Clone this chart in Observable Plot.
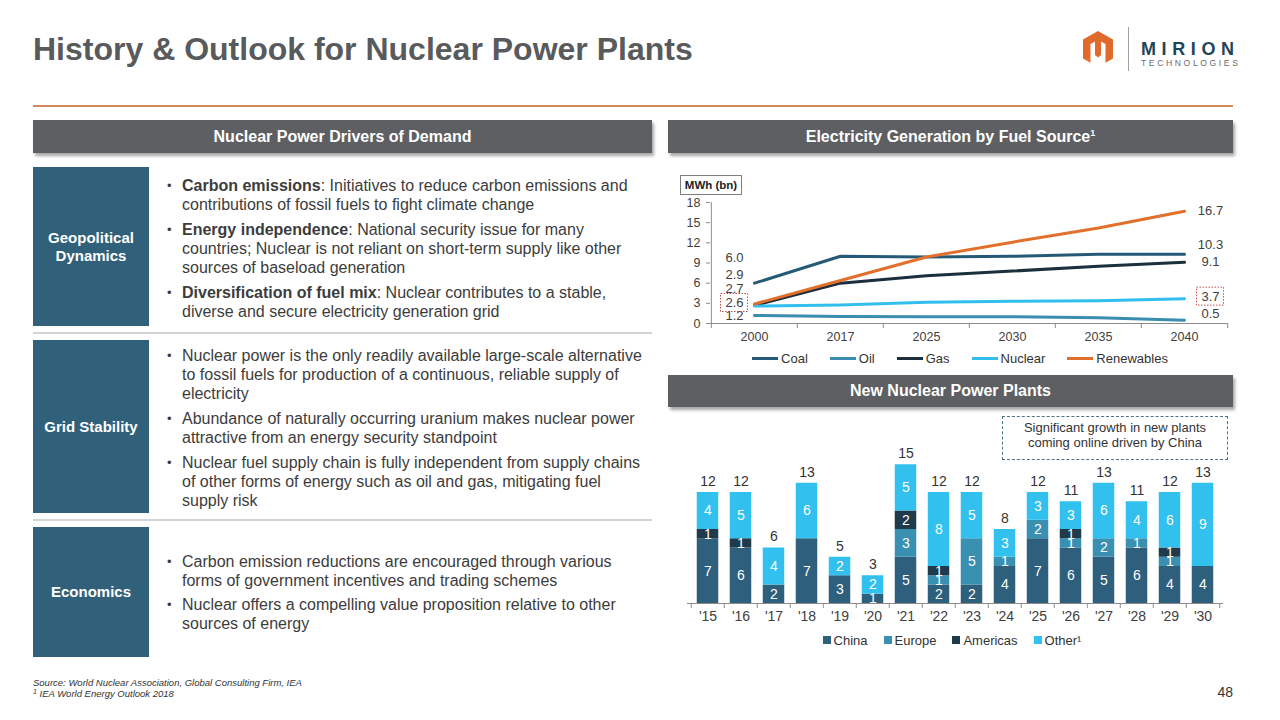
<!DOCTYPE html>
<html><head><meta charset="utf-8">
<script src="https://cdn.jsdelivr.net/npm/d3@7"></script>
<script src="https://cdn.jsdelivr.net/npm/@observablehq/plot@0.6"></script>
<style>
body{margin:0;background:#fff;font-family:"Liberation Sans",Arial,Helvetica,sans-serif;}
#slide{position:relative;width:1280px;height:720px;overflow:hidden;background:#fff;}
.abs{position:absolute;}
.title{left:33px;top:33px;font-size:32px;line-height:32px;font-weight:bold;color:#595a5c;white-space:nowrap;}
.rule{left:33px;top:105px;width:1200px;height:2px;background:#cf8a60;}
.hdr{background:#5e5f63;color:#fff;font-weight:bold;font-size:16px;text-align:center;box-shadow:2px 3px 3px rgba(0,0,0,0.35);white-space:nowrap;}
.rowbox{left:33px;width:116px;background:#31607a;color:#fff;font-weight:bold;font-size:15px;line-height:18px;display:flex;align-items:center;justify-content:center;text-align:center;}
.sep{left:33px;width:619px;height:2px;background:#d4d4d4;}
.bul{left:167px;font-size:16px;line-height:19px;color:#3c3c3c;white-space:nowrap;}
.bul p{margin:0 0 6px 0;padding-left:15px;position:relative;}
.bul p::before{content:"•";position:absolute;left:0;top:0;font-size:13px;}
.foot{left:33px;font-size:9.5px;font-style:italic;color:#333;white-space:nowrap;}
.legend{display:flex;justify-content:center;align-items:center;font-size:13px;color:#333;white-space:nowrap;}
.legend .it{display:flex;align-items:center;}
</style></head>
<body>
<div id="slide">
  <div class="abs title">History &amp; Outlook for Nuclear Power Plants</div>
  <svg class="abs" style="left:1075px;top:22px" width="175" height="55" viewBox="1075 22 175 55">
    <polygon points="1098,31 1113,39.5 1113,58.5 1098,67 1083,58.5 1083,39.5" fill="#e06a2b"/>
    <polygon points="1090.5,68 1090.5,44 1095,41.5 1095,55 1098,57.5 1101,55 1101,41.5 1105.5,44 1105.5,68" fill="#fff"/>
    <line x1="1128.5" y1="27" x2="1128.5" y2="71" stroke="#a0a0a0" stroke-width="1"/>
    <text x="1141" y="55" font-family="Liberation Sans, Arial" font-weight="bold" font-size="18" letter-spacing="5.6" fill="#1e4558">MIRION</text>
    <text x="1141" y="66" font-family="Liberation Sans, Arial" font-size="8.6" letter-spacing="2.6" fill="#6a6a6a">TECHNOLOGIES</text>
  </svg>
  <div class="abs rule"></div>

  <div class="abs hdr" style="left:33px;top:120px;width:619px;height:33px;line-height:33px;">Nuclear Power Drivers of Demand</div>
  <div class="abs hdr" style="left:668px;top:120px;width:565px;height:33px;line-height:33px;">Electricity Generation by Fuel Source<sup style="font-size:9px;vertical-align:6px;line-height:0">1</sup></div>
  <div class="abs hdr" style="left:668px;top:375px;width:565px;height:32px;line-height:32px;">New Nuclear Power Plants</div>

  <div class="abs rowbox" style="top:167px;height:159px;">Geopolitical<br>Dynamics</div>
  <div class="abs sep" style="top:332px;"></div>
  <div class="abs rowbox" style="top:340px;height:173px;">Grid Stability</div>
  <div class="abs sep" style="top:519px;"></div>
  <div class="abs rowbox" style="top:527px;height:130px;">Economics</div>

  <div class="abs bul" style="top:176px;">
    <p><b>Carbon emissions</b>: Initiatives to reduce carbon emissions and<br>contributions of fossil fuels to fight climate change</p>
    <p><b>Energy independence</b>: National security issue for many<br>countries; Nuclear is not reliant on short-term supply like other<br>sources of baseload generation</p>
    <p><b>Diversification of fuel mix</b>: Nuclear contributes to a stable,<br>diverse and secure electricity generation grid</p>
  </div>
  <div class="abs bul" style="top:346px;">
    <p>Nuclear power is the only readily available large-scale alternative<br>to fossil fuels for production of a continuous, reliable supply of<br>electricity</p>
    <p>Abundance of naturally occurring uranium makes nuclear power<br>attractive from an energy security standpoint</p>
    <p>Nuclear fuel supply chain is fully independent from supply chains<br>of other forms of energy such as oil and gas, mitigating fuel<br>supply risk</p>
  </div>
  <div class="abs bul" style="top:552px;">
    <p style="margin-bottom:5px">Carbon emission reductions are encouraged through various<br>forms of government incentives and trading schemes</p>
    <p>Nuclear offers a compelling value proposition relative to other<br>sources of energy</p>
  </div>

  <div class="abs" style="left:680px;top:175px;width:60px;height:18px;border:1px solid #7f7f7f;font-size:11.5px;font-weight:bold;line-height:18px;text-align:center;color:#222;">MWh (bn)</div>
  <div id="lineChart" class="abs" style="left:668px;top:192px;"></div>
  <div id="lineLegend" class="abs legend" style="left:668px;top:350px;width:584px;height:16px;gap:22px;"></div>

  <div id="barChart" class="abs" style="left:668px;top:415px;"></div>
  <div class="abs" style="left:1002px;top:416px;width:224px;height:39px;border:1.5px dashed #4f7385;font-size:13px;line-height:15px;color:#333;text-align:center;padding-top:3px;">Significant growth in new plants<br>coming online driven by China</div>
  <div id="barLegend" class="abs legend" style="left:668px;top:632px;width:568px;height:16px;gap:16px;"></div>

  <div class="abs foot" style="top:677px;">Source: World Nuclear Association, Global Consulting Firm, IEA</div>
  <div class="abs foot" style="top:688px;"><span style="font-size:7px;vertical-align:3px">1</span> IEA World Energy Outlook 2018</div>
  <div class="abs" style="left:1200px;top:684px;width:33px;text-align:right;font-size:14px;color:#333;">48</div>
</div>

<script>
// ---------- Electricity generation by fuel source ----------
const years = ["2000", "2017", "2025", "2030", "2035", "2040"];
const fuels = ["Coal", "Oil", "Gas", "Nuclear", "Renewables"];
const coal = [6.0, 10.0, 9.9, 10.0, 10.3, 10.3];
const oil = [1.2, 1.05, 1.0, 1.0, 0.85, 0.5];
const gas = [2.7, 6.0, 7.1, 7.8, 8.5, 9.1];
const nuclear = [2.6, 2.75, 3.15, 3.3, 3.4, 3.7];
const renewables = [2.9, 6.4, 9.9, 12.1, 14.2, 16.7];
const yTicks = [0, 3, 6, 9, 12, 15, 18];
const highlightFuel = "Nuclear";

// ---------- New nuclear power plants ----------
const plantYears = ["'15", "'16", "'17", "'18", "'19", "'20", "'21", "'22", "'23", "'24", "'25", "'26", "'27", "'28", "'29", "'30"];
const regions = ["China", "Europe", "Americas", "Other¹"];
const china    = [7, 6, 2, 7, 3, 1, 5, 2, 2, 4, 7, 6, 5, 6, 4, 4];
const europe   = [0, 0, 0, 0, 0, 0, 3, 1, 5, 1, 2, 1, 2, 1, 1, 0];
const americas = [1, 1, 0, 0, 0, 0, 2, 1, 0, 0, 0, 1, 0, 0, 1, 0];
const other    = [4, 5, 4, 6, 2, 2, 5, 8, 5, 3, 3, 3, 6, 4, 6, 9];

// ---------- styles ----------
const fuelColors = ["#255a77", "#3a8db0", "#1b2f3d", "#33bfee", "#e2702d"];
const regionColors = ["#2e5f7c", "#3a90b0", "#1f3a4b", "#32c1ee"];
const leftDy = {Coal: -25, Oil: 0, Gas: -17, Nuclear: -3, Renewables: -29};
const rightDy = {Coal: -9, Oil: -6, Gas: 0, Nuclear: -2, Renewables: 0};
const axisGray = "#8c8c8c";
const textGray = "#404040";

const fuelValues = {Coal: coal, Oil: oil, Gas: gas, Nuclear: nuclear, Renewables: renewables};
const lineRows = fuels.flatMap(f => years.map((y, i) => ({fuel: f, year: y, v: fuelValues[f][i]})));
const firstYear = years[0], lastYear = years[years.length - 1];

const W1 = 565, mL1 = 42, mR1 = 5;
const step1 = (W1 - mL1 - mR1) / years.length;

const labelMarks = fuels.flatMap(f => [
  Plot.text(lineRows.filter(d => d.fuel === f && d.year === firstYear),
    {x: "year", y: "v", text: d => d.v.toFixed(1), dx: -20, dy: leftDy[f], fontSize: 13, fill: textGray}),
  Plot.text(lineRows.filter(d => d.fuel === f && d.year === lastYear),
    {x: "year", y: "v", text: d => d.v.toFixed(1), dx: 26, dy: rightDy[f], fontSize: 13, fill: textGray})
]);
const boxOpts = {x1: "year", x2: "year", y1: "v", y2: "v", insetLeft: -13.5, insetRight: -13.5, insetTop: -9, insetBottom: -9,
  fill: "none", stroke: "#c0504d", strokeWidth: 1, strokeDasharray: "1.5,1.5"};

const lineChart = Plot.plot({
  width: W1, height: 156,
  marginLeft: mL1, marginRight: mR1, marginTop: 10, marginBottom: 25,
  style: {fontFamily: "Liberation Sans, Arial, sans-serif", fontSize: "12.5px", color: textGray, background: "transparent", overflow: "visible"},
  x: {type: "point", domain: years, padding: 0.5, axis: null},
  y: {domain: [0, 18], axis: null},
  color: {domain: fuels, range: fuelColors},
  marks: [
    Plot.axisY({ticks: yTicks, tickSize: 4, tickPadding: 6, stroke: axisGray, label: null}),
    Plot.ruleX([firstYear], {dx: -step1 / 2, stroke: axisGray}),
    Plot.ruleY([0], {stroke: axisGray}),
    Plot.axisX({tickSize: 0, tickPadding: 9, label: null}),
    Plot.axisX({ticks: years, tickSize: 5, tickFormat: () => "", dx: -step1 / 2, stroke: axisGray, label: null}),
    Plot.axisX({ticks: [lastYear], tickSize: 5, tickFormat: () => "", dx: step1 / 2, stroke: axisGray, label: null}),
    Plot.line(lineRows, {x: "year", y: "v", stroke: "fuel", strokeWidth: 3}),
    ...labelMarks,
    Plot.rect(lineRows.filter(d => d.fuel === highlightFuel && d.year === firstYear), {...boxOpts, dx: -20, dy: leftDy[highlightFuel]}),
    Plot.rect(lineRows.filter(d => d.fuel === highlightFuel && d.year === lastYear), {...boxOpts, dx: 26, dy: rightDy[highlightFuel]})
  ]
});
document.getElementById("lineChart").append(lineChart);

const lineLegend = document.getElementById("lineLegend");
fuels.forEach((f, i) => {
  const it = document.createElement("div"); it.className = "it";
  it.innerHTML = `<span style="display:inline-block;width:26px;height:3px;background:${fuelColors[i]};margin-right:3px"></span><span>${f}</span>`;
  lineLegend.append(it);
});

// ---------- bar chart ----------
const regionValues = {"China": china, "Europe": europe, "Americas": americas, "Other¹": other};
const barRows = regions.flatMap(r => plantYears.map((y, i) => ({region: r, year: y, v: regionValues[r][i]})));
const totals = plantYears.map((y, i) => ({year: y, total: regions.reduce((s, r) => s + regionValues[r][i], 0)}));

const W2 = 565, mL2 = 19, mR2 = 10;
const step2 = (W2 - mL2 - mR2) / plantYears.length;

const barChart = Plot.plot({
  width: W2, height: 215,
  marginLeft: mL2, marginRight: mR2, marginTop: 40, marginBottom: 27,
  style: {fontFamily: "Liberation Sans, Arial, sans-serif", fontSize: "14px", color: textGray, background: "transparent", overflow: "visible"},
  x: {type: "band", domain: plantYears, padding: 0, axis: null},
  y: {domain: [0, 16], axis: null},
  color: {domain: regions, range: regionColors},
  marks: [
    Plot.barY(barRows, {x: "year", y: "v", fill: "region", insetLeft: 5.75, insetRight: 5.75}),
    Plot.text(barRows.filter(d => d.v > 0), Plot.stackY({x: "year", y: "v", text: "v", fill: "white", fontSize: 14})),
    Plot.text(totals, {x: "year", y: "total", text: "total", dy: -11, fontSize: 14, fill: "#333"}),
    Plot.ruleY([0], {stroke: axisGray}),
    Plot.axisX({tickSize: 0, tickPadding: 8, label: null}),
    Plot.axisX({ticks: plantYears, tickSize: 5, tickFormat: () => "", dx: -step2 / 2, stroke: axisGray, label: null}),
    Plot.axisX({ticks: [plantYears[plantYears.length - 1]], tickSize: 5, tickFormat: () => "", dx: step2 / 2, stroke: axisGray, label: null})
  ]
});
document.getElementById("barChart").append(barChart);

const barLegend = document.getElementById("barLegend");
regions.forEach((r, i) => {
  const it = document.createElement("div"); it.className = "it";
  it.innerHTML = `<span style="display:inline-block;width:8px;height:8px;background:${regionColors[i]};margin-right:3px"></span><span>${r}</span>`;
  barLegend.append(it);
});
</script>
</body></html>
